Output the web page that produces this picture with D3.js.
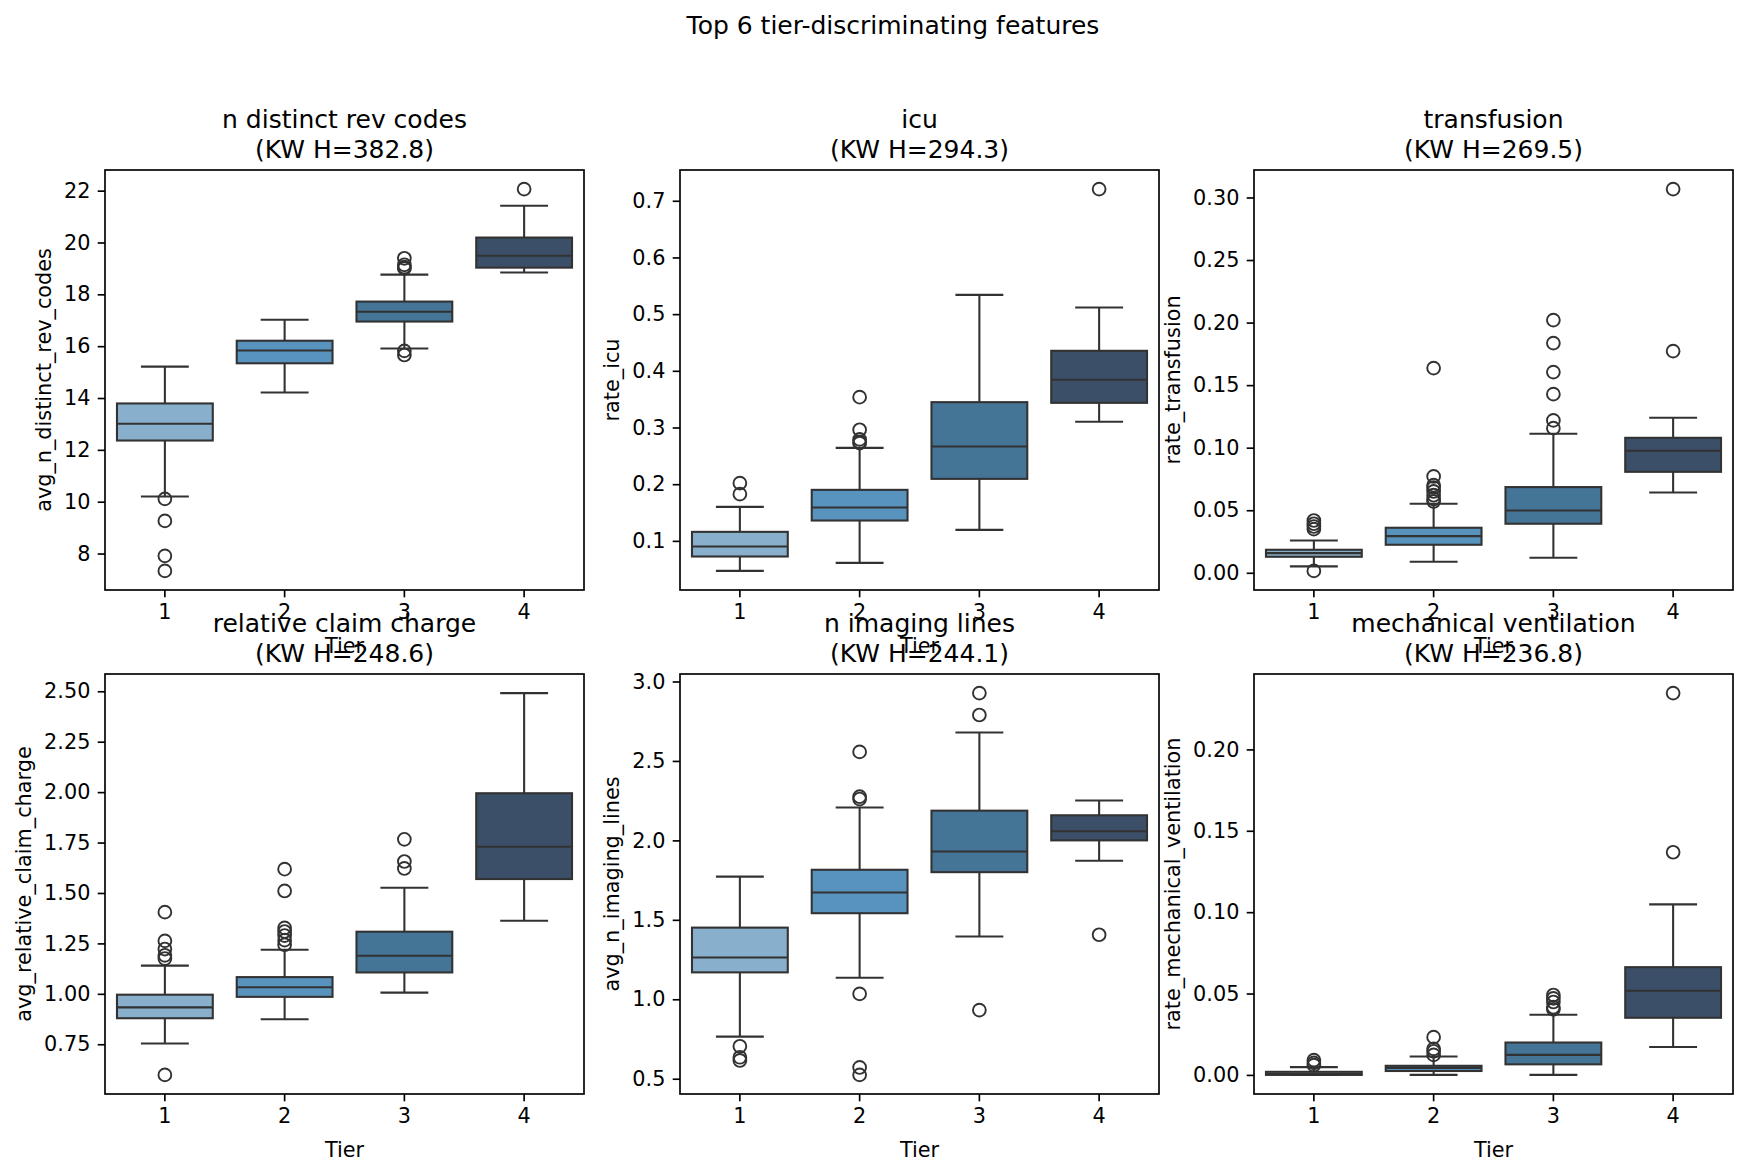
<!DOCTYPE html>
<html>
<head>
<meta charset="utf-8">
<script src="https://cdn.jsdelivr.net/npm/d3@7"></script>
<style>
  html, body { margin: 0; padding: 0; background: #ffffff; }
  text { font-family: "DejaVu Sans", sans-serif; fill: #000; }
</style>
</head>
<body>
<svg id="chart" width="1747" height="1172"></svg>
<script>
// ---------------- DATA ----------------
const tiers = ["1", "2", "3", "4"];
const tierColors = ["#88afcb", "#5893be", "#447597", "#3b5068"];

const suptitle = "Top 6 tier-discriminating features";
const panelTitles = ["n distinct rev codes", "icu", "transfusion",
                     "relative claim charge", "n imaging lines", "mechanical ventilation"];
const kwH = ["382.8", "294.3", "269.5", "248.6", "244.1", "236.8"];
const yLabels = ["avg_n_distinct_rev_codes", "rate_icu", "rate_transfusion",
                 "avg_relative_claim_charge", "avg_n_imaging_lines", "rate_mechanical_ventilation"];
const xLabel = "Tier";

// per tier: [whisker low, q1, median, q3, whisker high]
const revCodesStats = [
  [10.20, 12.36, 13.01, 13.79, 15.21],
  [14.21, 15.34, 15.83, 16.21, 17.02],
  [15.91, 16.95, 17.33, 17.72, 18.76],
  [18.84, 19.03, 19.49, 20.19, 21.42]
];
const revCodesOutliers = [
  [10.11, 9.26, 7.91, 7.33],
  [],
  [19.39, 19.14, 19.05, 19.0, 15.82, 15.66],
  [22.06]
];
const revCodesTicks = [8, 10, 12, 14, 16, 18, 20, 22];

const icuStats = [
  [0.047, 0.0724, 0.090, 0.1159, 0.160],
  [0.0612, 0.1359, 0.1588, 0.190, 0.264],
  [0.1194, 0.2094, 0.2665, 0.3447, 0.534],
  [0.310, 0.3435, 0.3841, 0.4353, 0.5118]
];
const icuOutliers = [
  [0.2018, 0.1824],
  [0.3535, 0.296, 0.279, 0.2747, 0.2724],
  [],
  [0.7206]
];
const icuTicks = [0.1, 0.2, 0.3, 0.4, 0.5, 0.6, 0.7];

const transfusionStats = [
  [0.0051, 0.0128, 0.0157, 0.0184, 0.0258],
  [0.0088, 0.0224, 0.0293, 0.0360, 0.0552],
  [0.0120, 0.0392, 0.0498, 0.0685, 0.1111],
  [0.0642, 0.0807, 0.0975, 0.1079, 0.1239]
];
const transfusionOutliers = [
  [0.0015, 0.0418, 0.0392, 0.0370, 0.0349],
  [0.057, 0.059, 0.062, 0.065, 0.068, 0.070, 0.077, 0.1636],
  [0.1156, 0.1218, 0.1428, 0.1604, 0.1836, 0.202],
  [0.1772, 0.3067]
];
const transfusionTicks = [0.00, 0.05, 0.10, 0.15, 0.20, 0.25, 0.30];

const claimStats = [
  [0.7535, 0.879, 0.933, 0.9957, 1.140],
  [0.8737, 0.985, 1.0323, 1.0829, 1.2189],
  [1.006, 1.106, 1.189, 1.308, 1.5256],
  [1.362, 1.569, 1.7296, 1.9945, 2.491]
];
const claimOutliers = [
  [0.598, 1.175, 1.191, 1.222, 1.2624, 1.405],
  [1.2433, 1.266, 1.289, 1.309, 1.327, 1.51, 1.618],
  [1.6215, 1.656, 1.766],
  []
];
const claimTicks = [0.75, 1.00, 1.25, 1.50, 1.75, 2.00, 2.25, 2.50];

const imagingStats = [
  [0.765, 1.1693, 1.2624, 1.451, 1.772],
  [1.136, 1.5417, 1.672, 1.815, 2.2066],
  [1.3954, 1.80, 1.93, 2.187, 2.679],
  [1.872, 2.0, 2.058, 2.158, 2.251]
];
const imagingOutliers = [
  [0.704, 0.635, 0.615],
  [2.557, 2.275, 2.26, 1.034, 0.571, 0.524],
  [2.789, 2.927, 0.932],
  [1.406]
];
const imagingTicks = [0.5, 1.0, 1.5, 2.0, 2.5, 3.0];

const ventStats = [
  [0.0, 0.0, 0.0006, 0.0019, 0.0048],
  [0.0, 0.0024, 0.0043, 0.0056, 0.0113],
  [0.0, 0.0065, 0.0123, 0.0199, 0.037],
  [0.0171, 0.0351, 0.0517, 0.0662, 0.1048]
];
const ventOutliers = [
  [0.0091, 0.0074, 0.0060],
  [0.0123, 0.0145, 0.0160, 0.0232],
  [0.0403, 0.0416, 0.0448, 0.0470, 0.0491],
  [0.1368, 0.2346]
];
const ventTicks = [0.00, 0.05, 0.10, 0.15, 0.20];

const panelStats = [revCodesStats, icuStats, transfusionStats, claimStats, imagingStats, ventStats];
const panelOutliers = [revCodesOutliers, icuOutliers, transfusionOutliers, claimOutliers, imagingOutliers, ventOutliers];
const panelTicks = [revCodesTicks, icuTicks, transfusionTicks, claimTicks, imagingTicks, ventTicks];
const tickFormats = [".0f", ".1f", ".2f", ".2f", ".1f", ".2f"];

// ---------------- LAYOUT ----------------
const colX = [105, 680, 1254];
const rowY = [170, 674];
const axW = 479, axH = 420;
const lineColor = "#323232";
const tickLen = 7.3, tickPad = 7.3, labelPad = 8.3;
const fsTick = 20.8, fsTitle = 25;

const svg = d3.select("#chart");
svg.append("rect").attr("width", 1747).attr("height", 1172).attr("fill", "#fff");

svg.append("text")
  .attr("x", 893).attr("y", 34)
  .attr("text-anchor", "middle")
  .style("font-size", fsTitle + "px")
  .text(suptitle);

panelTitles.forEach((title, i) => {
  const col = i % 3, row = Math.floor(i / 3);
  const g = svg.append("g").attr("transform", `translate(${colX[col]},${rowY[row]})`);
  const stats = panelStats[i], outs = panelOutliers[i];

  const allVals = stats.flat().concat(outs.flat());
  const vmin = d3.min(allVals), vmax = d3.max(allVals);
  const pad = (vmax - vmin) * 0.05;

  const x = d3.scaleBand().domain(tiers).range([0, axW]).paddingInner(0).paddingOuter(0);
  const y = d3.scaleLinear().domain([vmin - pad, vmax + pad]).range([axH, 0]);
  const bw = x.bandwidth() * 0.8;

  tiers.forEach((t, k) => {
    const s = stats[k];
    const cx = x(t) + x.bandwidth() / 2;
    const bg = g.append("g");
    bg.append("line").attr("x1", cx).attr("x2", cx).attr("y1", y(s[3])).attr("y2", y(s[4]))
      .attr("stroke", lineColor).attr("stroke-width", 2.08);
    bg.append("line").attr("x1", cx).attr("x2", cx).attr("y1", y(s[1])).attr("y2", y(s[0]))
      .attr("stroke", lineColor).attr("stroke-width", 2.08);
    [s[0], s[4]].forEach(v => {
      bg.append("line").attr("x1", cx - bw / 4).attr("x2", cx + bw / 4)
        .attr("y1", y(v)).attr("y2", y(v))
        .attr("stroke", lineColor).attr("stroke-width", 2.08);
    });
    bg.append("rect")
      .attr("x", cx - bw / 2).attr("width", bw)
      .attr("y", y(s[3])).attr("height", Math.max(0, y(s[1]) - y(s[3])))
      .attr("fill", tierColors[k]).attr("stroke", lineColor).attr("stroke-width", 2.08);
    bg.append("line").attr("x1", cx - bw / 2).attr("x2", cx + bw / 2)
      .attr("y1", y(s[2])).attr("y2", y(s[2]))
      .attr("stroke", lineColor).attr("stroke-width", 2.08);
    bg.selectAll("circle.o").data(outs[k]).enter().append("circle")
      .attr("cx", cx).attr("cy", d => y(d)).attr("r", 6.4)
      .attr("fill", "none").attr("stroke", lineColor).attr("stroke-width", 1.9);
  });

  g.append("rect").attr("width", axW).attr("height", axH)
    .attr("fill", "none").attr("stroke", "#000").attr("stroke-width", 1.67);

  const xAxis = d3.axisBottom(x).tickSize(tickLen).tickPadding(tickPad);
  const xg = g.append("g").attr("transform", `translate(0,${axH})`).call(xAxis);
  xg.select(".domain").remove();
  xg.selectAll(".tick line").attr("stroke", "#000").attr("stroke-width", 1.67);
  xg.selectAll(".tick text").style("font-size", fsTick + "px")
    .style("font-family", "DejaVu Sans").attr("fill", "#000");

  const yAxis = d3.axisLeft(y).tickValues(panelTicks[i]).tickFormat(d3.format(tickFormats[i]))
    .tickSize(tickLen).tickPadding(tickPad);
  const yg = g.append("g").call(yAxis);
  yg.select(".domain").remove();
  yg.selectAll(".tick line").attr("stroke", "#000").attr("stroke-width", 1.67);
  yg.selectAll(".tick text").style("font-size", fsTick + "px")
    .style("font-family", "DejaVu Sans").attr("fill", "#000");
  let maxW = 0;
  yg.selectAll(".tick text").each(function() { maxW = Math.max(maxW, this.getComputedTextLength()); });

  g.append("text").attr("x", axW / 2).attr("y", axH + 63)
    .attr("text-anchor", "middle").style("font-size", fsTick + "px").text(xLabel);

  const ylx = -(tickLen + tickPad + maxW + labelPad + 5);
  g.append("text")
    .attr("transform", `translate(${ylx},${axH / 2}) rotate(-90)`)
    .attr("text-anchor", "middle").style("font-size", fsTick + "px").text(yLabels[i]);

  g.append("text").attr("x", axW / 2).attr("y", -12.5 - 30)
    .attr("text-anchor", "middle").style("font-size", fsTitle + "px").text(title);
  g.append("text").attr("x", axW / 2).attr("y", -12.5)
    .attr("text-anchor", "middle").style("font-size", fsTitle + "px").text(`(KW H=${kwH[i]})`);
});
</script>
</body>
</html>
